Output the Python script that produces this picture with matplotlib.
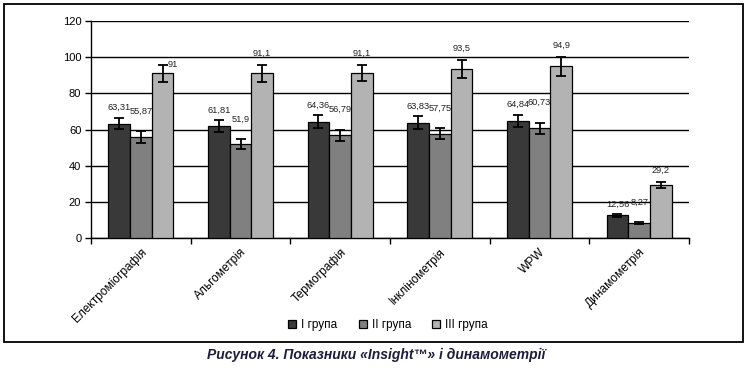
import matplotlib.pyplot as plt
import numpy as np
from matplotlib.patches import Rectangle

categorias = ['Електроміографія', 'Альгометрія', 'Термографія', 'Інклінометрія', 'WPW', 'Динамометрія']
grupas = ['І група', 'ІІ група', 'ІІІ група']

grupa1 = [63.31, 61.81, 64.36, 63.83, 64.84, 12.56]
grupa2 = [55.87, 51.9, 56.79, 57.75, 60.73, 8.27]
grupa3 = [91, 91.1, 91.1, 93.5, 94.9, 29.2]

erro1 = [3.2, 3.4, 3.6, 3.7, 3.3, 0.7]
erro2 = [3.4, 2.9, 3.2, 3.2, 3.1, 0.7]
erro3 = [4.9, 4.7, 4.5, 4.8, 5.1, 1.7]

rotulos1 = ['63,31', '61,81', '64,36', '63,83', '64,84', '12,56']
rotulos2 = ['55,87', '51,9', '56,79', '57,75', '60,73', '8,27']
rotulos3 = ['91', '91,1', '91,1', '93,5', '94,9', '29,2']

cores = ['#393939', '#808080', '#b3b3b3']
plt.rcParams['font.family'] = ['Liberation Sans', 'DejaVu Sans']

fig = plt.figure(figsize=(7.51, 3.68), dpi=100)
ax = fig.add_axes([91 / 751, 1 - 238 / 368, 598 / 751, 217 / 368])

x = np.arange(len(categorias)) + 0.5
largura = 0.218
valores = [grupa1, grupa2, grupa3]
erros = [erro1, erro2, erro3]
rotulos = [rotulos1, rotulos2, rotulos3]
desloc_rotulo = [4, 11, 5]

for i in range(3):
    pos = x + (i - 1) * largura
    ax.bar(pos, valores[i], largura, color=cores[i], edgecolor='black', linewidth=0.9,
           label=grupas[i], zorder=3)
    ax.errorbar(pos, valores[i], yerr=erros[i], fmt='none', ecolor='black',
                elinewidth=1.3, capsize=3.5, capthick=1.3, zorder=4)
    for j, (p, v, e, r) in enumerate(zip(pos, valores[i], erros[i], rotulos[i])):
        if i == 2 and j == 0:
            # no Excel este rótulo ficou ao lado da barra de erro
            ax.annotate(r, xy=(p, v + e), xytext=(4, 0), textcoords='offset points',
                        ha='left', va='center', fontsize=6.7, color='#222222')
            continue
        ax.annotate(r, xy=(p, v + e), xytext=(0, desloc_rotulo[i]), textcoords='offset points',
                    ha='center', va='bottom', fontsize=6.7, color='#222222')

ax.set_xlim(0, len(categorias))
ax.set_ylim(0, 120)
ax.set_yticks(range(0, 121, 20))
ax.tick_params(axis='y', labelsize=8, length=4, width=1, pad=3)
ax.grid(axis='y', color='black', linewidth=1, zorder=0)
ax.set_axisbelow(True)

ax.set_xticks(range(len(categorias) + 1))
ax.set_xticklabels([])
ax.set_xticks(x, minor=True)
ax.set_xticklabels(categorias, minor=True, rotation=45, ha='right', rotation_mode='anchor',
                   fontsize=8.6)
ax.tick_params(axis='x', which='major', length=4, width=1)
ax.tick_params(axis='x', which='minor', length=0, pad=6)

for lado in ['top', 'right']:
    ax.spines[lado].set_visible(False)
for lado in ['left', 'bottom']:
    ax.spines[lado].set_linewidth(1)

fig.legend(loc='center', bbox_to_anchor=(388 / 751, 1 - 325 / 368), ncol=3, frameon=False,
           fontsize=8.5, handlelength=0.7, handleheight=0.7, handletextpad=0.4, columnspacing=1.8)

fig.patches.append(Rectangle((4 / 751, 1 - 342 / 368), 739 / 751, 338 / 368, transform=fig.transFigure,
                             fill=False, edgecolor='black', linewidth=1.3))

fig.text(376 / 751, 1 - 355 / 368, 'Рисунок 4. Показники «Insight™» і динамометрії', ha='center', va='center',
         fontsize=10, weight='bold', style='italic', color='#1c1c3c',
         family=['Liberation Sans Narrow', 'Liberation Sans', 'DejaVu Sans'])

plt.savefig('out.png', dpi=100)
